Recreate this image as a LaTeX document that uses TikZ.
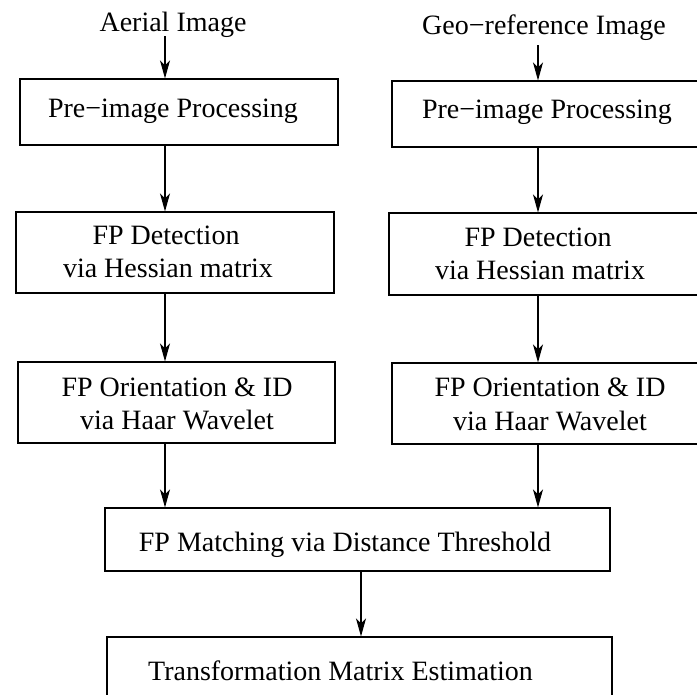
\documentclass[tikz,border=0pt]{standalone}
\usepackage{fontspec}
\setmainfont{Liberation Serif}
\usetikzlibrary{arrows.meta}
\tikzset{
  box/.style={draw=black, line width=1.1pt, inner sep=0pt, rectangle},
  txt/.style={anchor=base, inner sep=0pt, font=\fontsize{28}{33}\selectfont},
  arr/.style={draw=black, line width=1.1pt, -{Stealth[length=18pt, width=10pt, inset=5pt]}}
}
\begin{document}
\begin{tikzpicture}[x=1pt, y=-1pt]
\useasboundingbox (0,0) rectangle (697,695);
% column coordinates for connectors
\coordinate (colL) at (165,0);
\coordinate (colR) at (538,0);
\coordinate (colM) at (361,0);
% boxes
\node[box, minimum width=318pt, minimum height=66pt] (preL) at (179,112) {};
\node[box, minimum width=320pt, minimum height=66pt] (preR) at (552,114) {};
\node[box, minimum width=318pt, minimum height=81pt] (detL) at (175,252.5) {};
\node[box, minimum width=323pt, minimum height=82pt] (detR) at (550.5,254) {};
\node[box, minimum width=317pt, minimum height=81pt] (oriL) at (176.5,402.5) {};
\node[box, minimum width=320pt, minimum height=81pt] (oriR) at (552,403.5) {};
\node[box, minimum width=505pt, minimum height=63pt] (match) at (357.5,539.5) {};
\node[box, minimum width=505pt, minimum height=73pt] (trans) at (359.5,673.5) {};
% texts
\node[txt] (aerial) at (173,32) {Aerial Image};
\node[txt] (geo) at (544,35) {Geo−reference Image};
\node[txt] (preLt) at (173,118) {Pre−image Processing};
\node[txt] (preRt) at (547,119) {Pre−image Processing};
\node[txt] (detLt1) at (166,245) {FP Detection};
\node[txt] (detLt2) at (168,278) {via Hessian matrix};
\node[txt] (detRt1) at (538,247) {FP Detection};
\node[txt] (detRt2) at (540,280) {via Hessian matrix};
\node[txt] (oriLt1) at (177,397) {FP Orientation \& ID};
\node[txt] (oriLt2) at (177,429) {via Haar Wavelet};
\node[txt] (oriRt1) at (550,397) {FP Orientation \& ID};
\node[txt] (oriRt2) at (550,430) {via Haar Wavelet};
\node[txt] (matcht) at (345,551) {FP Matching via Distance Threshold};
\node[txt] (transt) at (340.5,680) {Transformation Matrix Estimation};
% connectors
\draw[arr] ([yshift=2pt]aerial.south -| colL) -- (preL.north -| colL);
\draw[arr] (preL.south -| colL) -- (detL.north -| colL);
\draw[arr] (detL.south -| colL) -- (oriL.north -| colL);
\draw[arr] (oriL.south -| colL) -- (match.north -| colL);
\draw[arr] ([yshift=-4pt]geo.south -| colR) -- (preR.north -| colR);
\draw[arr] (preR.south -| colR) -- (detR.north -| colR);
\draw[arr] (detR.south -| colR) -- (oriR.north -| colR);
\draw[arr] (oriR.south -| colR) -- (match.north -| colR);
\draw[arr] (match.south -| colM) -- (trans.north -| colM);
\end{tikzpicture}
\end{document}
